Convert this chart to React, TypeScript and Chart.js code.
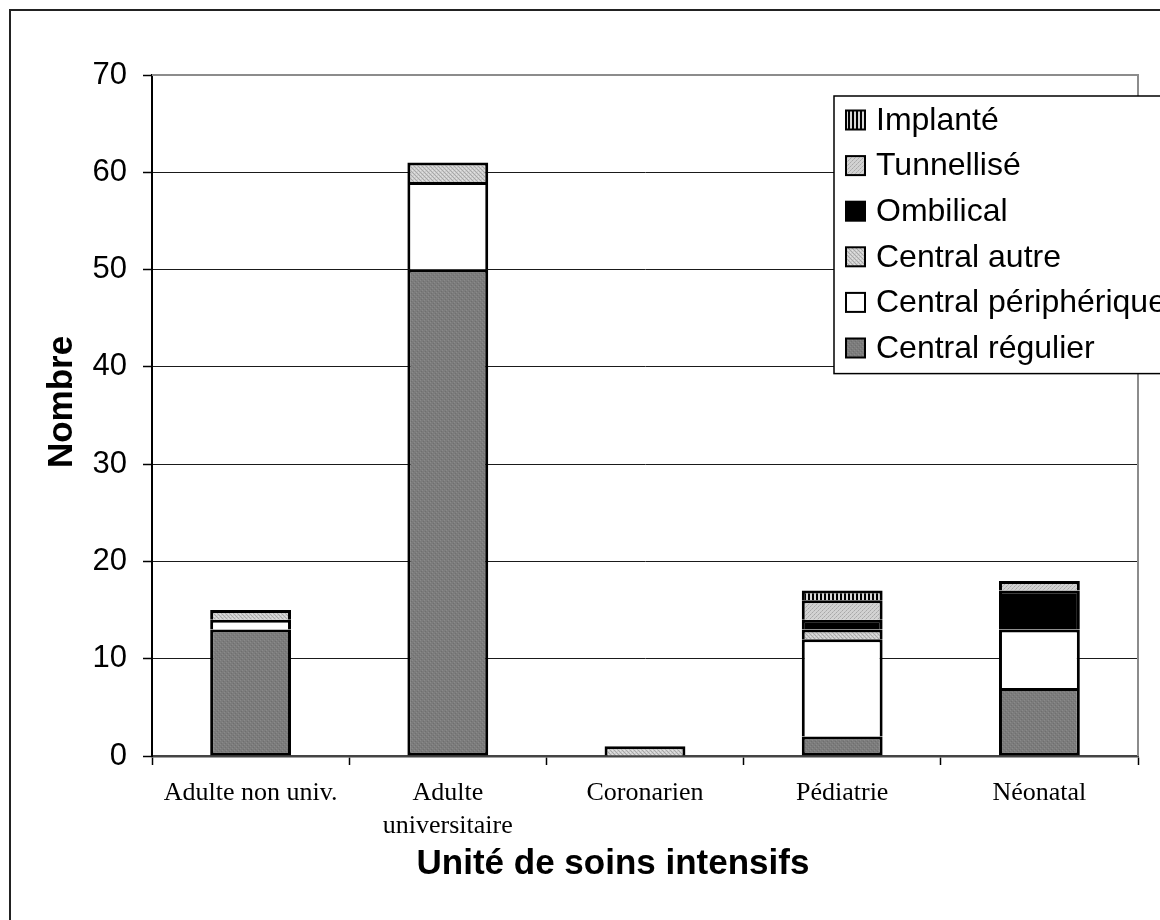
import React, { useEffect, useRef } from "react";
import { Chart, registerables } from "chart.js";

Chart.register(...registerables);

// ---- data ----
const categories: string[][] = [
  ["Adulte non univ."],
  ["Adulte", "universitaire"],
  ["Coronarien"],
  ["Pédiatrie"],
  ["Néonatal"],
];
const centralRegulier = [13, 50, 0, 2, 7];
const centralPeripherique = [1, 9, 0, 10, 6];
const centralAutre = [1, 2, 1, 1, 0];
const ombilical = [0, 0, 0, 1, 4];
const tunnellise = [0, 0, 0, 2, 1];
const implante = [0, 0, 0, 1, 0];
const seriesNames = [
  "Central régulier",
  "Central périphérique",
  "Central autre",
  "Ombilical",
  "Tunnellisé",
  "Implanté",
];
const yMin = 0;
const yMax = 70;
const yStep = 10;
const xTitle = "Unité de soins intensifs";
const yTitle = "Nombre";

const SANS = "'Liberation Sans', Arial, sans-serif";
const SERIF = "'Liberation Serif', 'Times New Roman', serif";

function makePattern(size: number, draw: (c: CanvasRenderingContext2D) => void) {
  const cv = document.createElement("canvas");
  cv.width = size;
  cv.height = size;
  const c = cv.getContext("2d")!;
  draw(c);
  const ctx = document.createElement("canvas").getContext("2d")!;
  return ctx.createPattern(cv, "repeat")!;
}

function px(c: CanvasRenderingContext2D, x: number, y: number, col: string) {
  c.fillStyle = col;
  c.fillRect(x, y, 1, 1);
}

export default function App() {
  const ref = useRef<HTMLCanvasElement | null>(null);

  useEffect(() => {
    const canvas = ref.current;
    if (!canvas) return;

    const patRegulier = makePattern(4, (c) => {
      c.fillStyle = "#7c7c7c";
      c.fillRect(0, 0, 4, 4);
      px(c, 0, 0, "#8a8a8a");
      px(c, 2, 2, "#8a8a8a");
      px(c, 1, 3, "#6f6f6f");
      px(c, 3, 1, "#6f6f6f");
    });
    const patAutre = makePattern(4, (c) => {
      c.fillStyle = "#cdcdcd";
      c.fillRect(0, 0, 4, 4);
      px(c, 0, 0, "#a8a8a8");
      px(c, 1, 1, "#a8a8a8");
      px(c, 2, 2, "#a8a8a8");
      px(c, 3, 3, "#a8a8a8");
      px(c, 2, 0, "#e2e2e2");
      px(c, 0, 2, "#e2e2e2");
    });
    const patTunnel = makePattern(4, (c) => {
      c.fillStyle = "#d2d2d2";
      c.fillRect(0, 0, 4, 4);
      px(c, 0, 0, "#a8a8a8");
      px(c, 2, 2, "#a8a8a8");
      px(c, 1, 3, "#b8b8b8");
      px(c, 3, 1, "#b8b8b8");
    });
    const patImplante = makePattern(4, (c) => {
      c.fillStyle = "#000000";
      c.fillRect(0, 0, 4, 4);
      c.fillStyle = "#d8d8d8";
      c.fillRect(2, 0, 2, 4);
    });

    const fills: any[] = [patRegulier, "#ffffff", patAutre, "#000000", patTunnel, patImplante];
    const values = [centralRegulier, centralPeripherique, centralAutre, ombilical, tunnellise, implante];

    const framePlugin = {
      id: "framePlugin",
      afterDraw(chart: any) {
        const ctx = chart.ctx as CanvasRenderingContext2D;
        const a = chart.chartArea;
        ctx.save();
        // plot area top & right border (gray)
        ctx.strokeStyle = "#8c8c8c";
        ctx.lineWidth = 2;
        ctx.beginPath();
        ctx.moveTo(a.left, a.top);
        ctx.lineTo(a.right, a.top);
        ctx.lineTo(a.right, a.bottom);
        ctx.stroke();

        // outer frame
        ctx.strokeStyle = "#222";
        ctx.lineWidth = 2;
        ctx.beginPath();
        ctx.moveTo(10, 930);
        ctx.lineTo(10, 10);
        ctx.lineTo(1170, 10);
        ctx.stroke();

        // axis titles
        ctx.fillStyle = "#000";
        ctx.font = `bold 35px ${SANS}`;
        ctx.textAlign = "center";
        ctx.textBaseline = "middle";
        ctx.fillText(xTitle, 613, 864);
        ctx.save();
        ctx.translate(62, 402);
        ctx.rotate(-Math.PI / 2);
        ctx.fillText(yTitle, 0, 0);
        ctx.restore();

        // legend
        const lx = 834;
        const ly = 96;
        const rowH = 45.6;
        const n = seriesNames.length;
        const lh = rowH * n + 4;
        ctx.fillStyle = "#fff";
        ctx.fillRect(lx, ly, 400, lh);
        ctx.strokeStyle = "#000";
        ctx.lineWidth = 1.5;
        ctx.strokeRect(lx, ly, 400, lh);
        ctx.font = `32px ${SANS}`;
        ctx.textAlign = "left";
        ctx.textBaseline = "middle";
        for (let i = 0; i < n; i++) {
          const si = n - 1 - i;
          const cy = ly + 24 + i * rowH;
          ctx.fillStyle = fills[si];
          ctx.fillRect(846, cy - 9.5, 19, 19);
          ctx.strokeStyle = "#000";
          ctx.lineWidth = 2;
          ctx.strokeRect(846, cy - 9.5, 19, 19);
          ctx.fillStyle = "#000";
          ctx.fillText(seriesNames[si], 876, cy + 1);
        }
        ctx.restore();
      },
    };

    const chart = new Chart(canvas, {
      type: "bar",
      data: {
        labels: categories as any,
        datasets: seriesNames.map((name, i) => ({
          label: name,
          data: values[i],
          backgroundColor: fills[i],
          borderColor: "#000",
          borderWidth: i === 0
            ? { top: 3, left: 3, right: 3, bottom: 3 }
            : { top: 3, left: 3, right: 3, bottom: 0 },
          borderSkipped: false,
          barPercentage: 0.41,
          categoryPercentage: 1,
        })),
      },
      options: {
        responsive: false,
        animation: false,
        devicePixelRatio: 1,
        layout: { padding: { left: 0, top: 75, right: 22, bottom: 0 } },
        plugins: {
          legend: { display: false },
          tooltip: { enabled: false },
          title: { display: false },
        },
        scales: {
          x: {
            stacked: true,
            offset: true,
            afterFit: (s: any) => {
              s.height = 164;
            },
            grid: {
              display: true,
              offset: true,
              drawOnChartArea: false,
              drawTicks: true,
              tickLength: 9,
              tickColor: "#000",
              tickWidth: 1.5,
            },
            border: { display: true, color: "#444", width: 2.5 },
            ticks: {
              color: "#000",
              padding: 12,
              font: { family: SERIF, size: 26, lineHeight: 1.25 },
              maxRotation: 0,
              autoSkip: false,
            },
          },
          y: {
            stacked: true,
            min: yMin,
            max: yMax,
            afterFit: (s: any) => {
              s.width = 152;
            },
            grid: {
              color: (c: any) => (c.tick && c.tick.value === yMax ? "rgba(0,0,0,0)" : "#1a1a1a"),
              lineWidth: 1,
              drawTicks: true,
              tickLength: 9,
              tickColor: "#000",
              tickWidth: 1.5,
            },
            border: { display: true, color: "#000", width: 2 },
            ticks: {
              stepSize: yStep,
              color: "#000",
              padding: 16,
              font: { family: SANS, size: 31 },
            },
          },
        },
      },
      plugins: [framePlugin],
    } as any);

    return () => {
      chart.destroy();
    };
  }, []);

  return (
    <div style={{ position: "absolute", left: 0, top: 0, width: 1160, height: 920, background: "#fff" }}>
      <canvas ref={ref} width={1160} height={920} style={{ display: "block", width: 1160, height: 920 }} />
    </div>
  );
}
